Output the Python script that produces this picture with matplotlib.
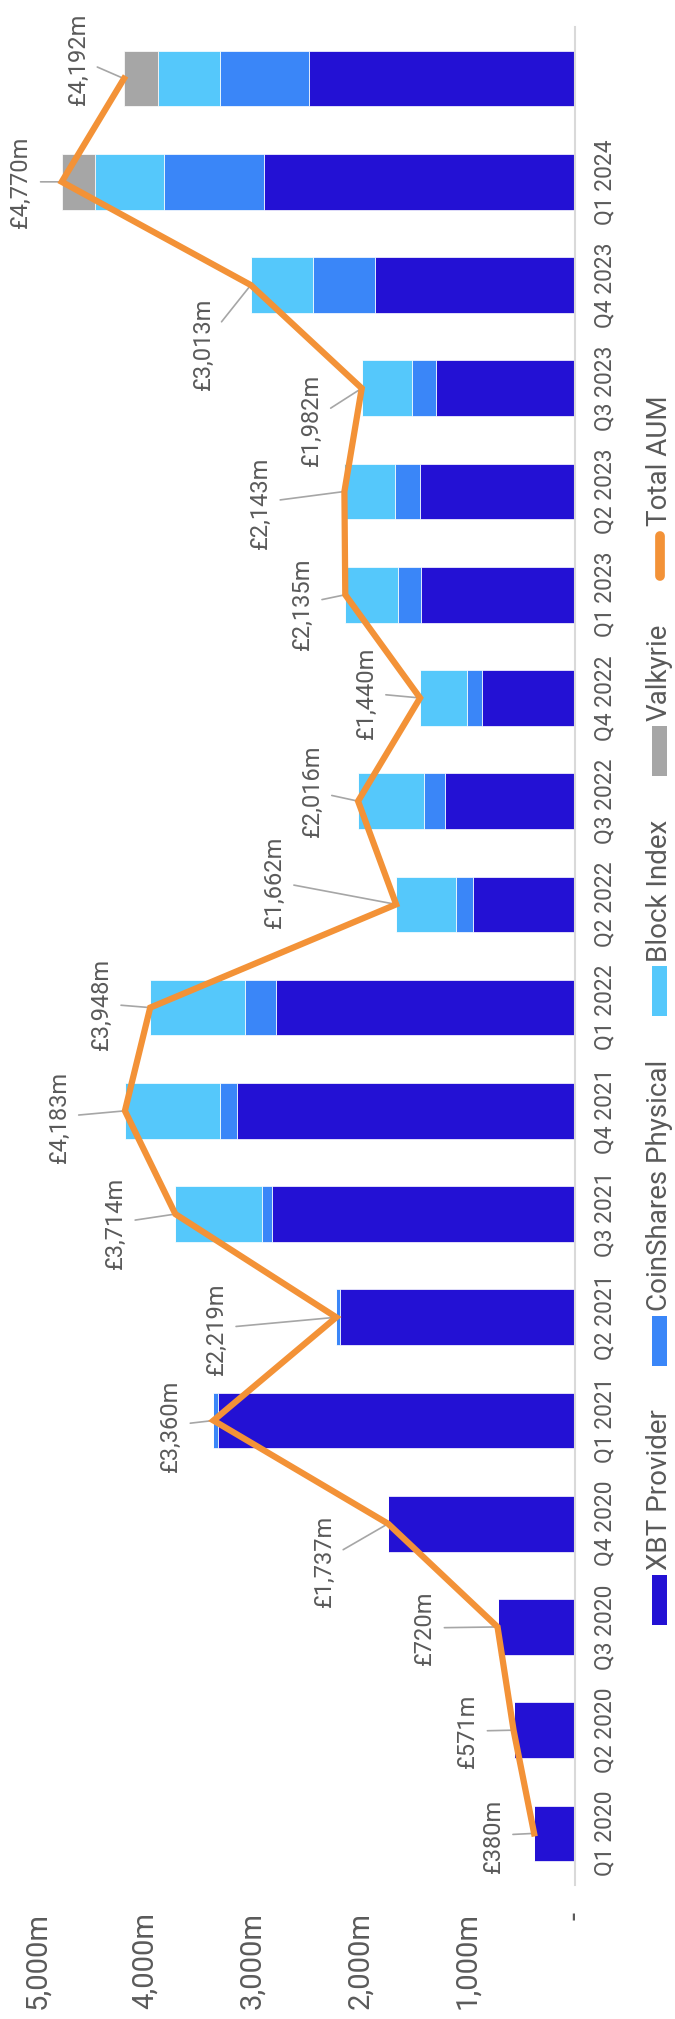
import matplotlib
matplotlib.use("Agg")
import numpy as np
import matplotlib.pyplot as plt
from matplotlib.patches import Rectangle
from matplotlib.lines import Line2D

plt.rcParams['font.family'] = ['Roboto', 'DejaVu Sans']

# Quarterly AUM by provider (GBP m)
quarters = ['Q1 2020', 'Q2 2020', 'Q3 2020', 'Q4 2020', 'Q1 2021', 'Q2 2021',
            'Q3 2021', 'Q4 2021', 'Q1 2022', 'Q2 2022', 'Q3 2022', 'Q4 2022',
            'Q1 2023', 'Q2 2023', 'Q3 2023', 'Q4 2023', 'Q1 2024', '']
xbt_provider = [380, 571, 720, 1737, 3320, 2185, 2815, 3138, 2780, 950, 1210, 864,
                1430, 1440, 1292, 1862, 2890, 2470]
coinshares_physical = [0, 0, 0, 0, 40, 34, 93, 160, 290, 154, 195, 136,
                       215, 235, 224, 570, 930, 825]
block_index = [0, 0, 0, 0, 0, 0, 806, 885, 878, 558, 611, 440,
               490, 468, 466, 581, 645, 580]
valkyrie = [0, 0, 0, 0, 0, 0, 0, 0, 0, 0, 0, 0,
            0, 0, 0, 0, 305, 317]
total_aum = [380, 571, 720, 1737, 3360, 2219, 3714, 4183, 3948, 1662, 2016, 1440,
             2135, 2143, 1982, 3013, 4770, 4192]

# label offsets (pixels) from each total point
label_dx = [-41, -46, -73, -64, -43, -120, -60, -66, -49, -122, -46, -54,
            -43, -84, -50, -47, -41, -46]
label_dy = [-2, -1, -1, -37, -5, -11, -9, -6, 4, 23, 10, 5,
            -9, -11, -32, -59, 0, 20]

value_ticks = [0, 1000, 2000, 3000, 4000, 5000]

series_names = ['XBT Provider', 'CoinShares Physical', 'Block Index', 'Valkyrie']
series_colors = ['#2311d4', '#3a86f8', '#55c8fb', '#a6a6a6']
line_name = 'Total AUM'
line_color = '#f39237'
text_color = '#5a5a5a'

W, H = 675, 2019
fig = plt.figure(figsize=(W / 100, H / 100), dpi=100)
ax = fig.add_axes([37 / W, 1 - 1885 / H, (575 - 37) / W, (1885 - 27) / H])

y = np.arange(len(quarters))
left = np.zeros(len(quarters))
for vals, name, col in zip([xbt_provider, coinshares_physical, block_index, valkyrie],
                           series_names, series_colors):
    ax.barh(y, vals, left=left, height=0.54, color=col, edgecolor='white',
            linewidth=0.5, label=name, zorder=2)
    left += np.array(vals)

ax.plot(total_aum, y, color=line_color, lw=4.5, solid_joinstyle='miter', zorder=4)

for i, tot in enumerate(total_aum):
    ax.annotate(f"£{tot:,}m", xy=(tot, y[i]), xytext=(label_dx[i], label_dy[i]),
                textcoords='offset pixels', rotation=90, ha='center', va='center',
                fontsize=17, color=text_color, zorder=3,
                arrowprops=dict(arrowstyle='-', color='#a6a6a6', lw=1.2,
                                shrinkA=4, shrinkB=0))

ax.set_xlim(5000, 0)
ax.set_ylim(-0.5, len(quarters) - 0.5)
ax.set_xticks(value_ticks)
ax.set_xticklabels(['-' if v == 0 else f"{v:,}m" for v in value_ticks],
                   rotation=90, va='top', ha='center')
ax.tick_params(axis='x', length=0, pad=19.5, labelsize=21, colors=text_color)

ax.yaxis.tick_right()
ax.set_yticks(y)
ax.set_yticklabels(quarters, rotation=90, va='center', ha='left')
ax.tick_params(axis='y', length=0, pad=13, labelsize=16.5, colors=text_color)

for s in ['top', 'bottom', 'left']:
    ax.spines[s].set_visible(False)
ax.spines['right'].set_color('#d9d9d9')
ax.spines['right'].set_linewidth(1.5)

# manual rotated legend along the right edge
leg_names = series_names + [line_name]
leg_colors = series_colors + [line_color]
handle_len, handle_w, gap_text, gap_item = 50, 15, 5, 43
x_base = 667

fig.canvas.draw()
renderer = fig.canvas.get_renderer()
texts = []
for name in leg_names:
    t = fig.text(0, 0, name, rotation=90, rotation_mode='anchor', ha='left',
                 va='baseline', fontsize=20, color=text_color)
    texts.append(t)
lengths = [t.get_window_extent(renderer).height for t in texts]
total_len = sum(handle_len + gap_text + L for L in lengths) + gap_item * (len(leg_names) - 1)
pos = 1010 + total_len / 2  # pixel from top, bottom of first handle

for k, (name, col, t, L) in enumerate(zip(leg_names, leg_colors, texts, lengths)):
    y0 = pos
    y1 = pos - handle_len
    if k < len(series_names):
        fig.add_artist(Rectangle(((x_base - handle_w) / W, 1 - y0 / H),
                                 handle_w / W, handle_len / H,
                                 transform=fig.transFigure, color=col, lw=0))
    else:
        fig.add_artist(Line2D([(x_base - 7) / W] * 2, [1 - (y0 - 5) / H, 1 - (y1 + 5) / H],
                              transform=fig.transFigure, color=col, lw=7,
                              solid_capstyle='round'))
    t.set_position((x_base / W, 1 - (y1 - gap_text) / H))
    pos = y1 - gap_text - L - gap_item

fig.savefig('out.png', dpi=100)
